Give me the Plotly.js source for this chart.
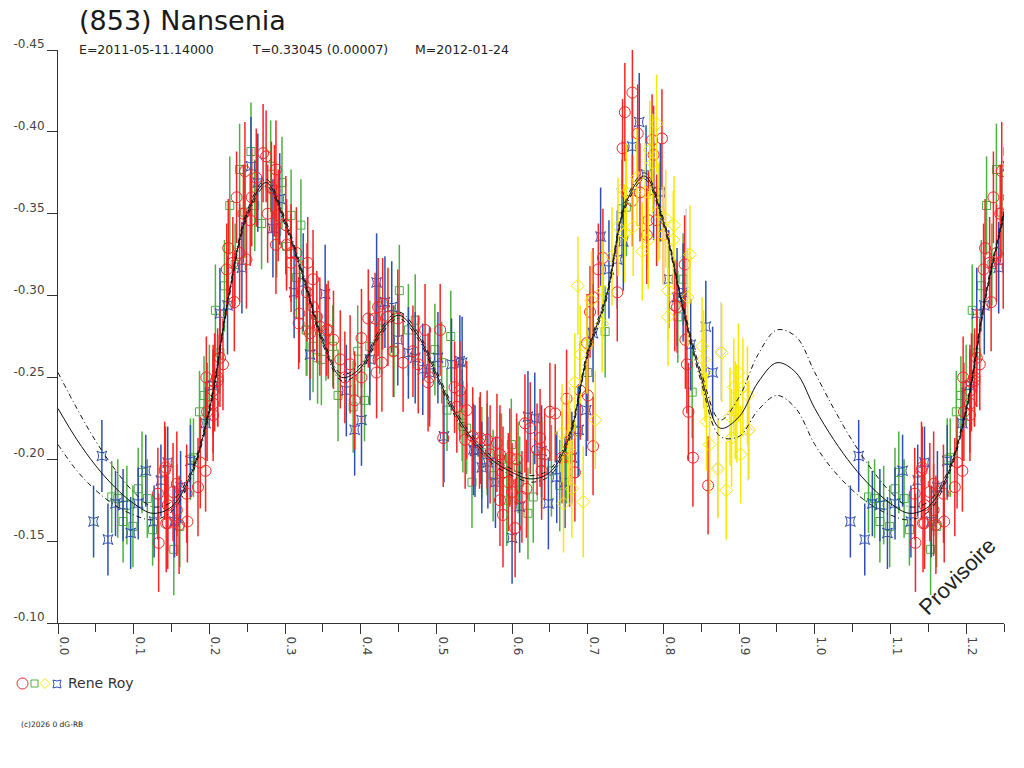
<!DOCTYPE html>
<html>
<head>
<meta charset="utf-8">
<script src="https://cdn.plot.ly/plotly-3.0.1.min.js"></script>
<style>
  html, body { margin: 0; padding: 0; background: #fff; }
  #chart { width: 1024px; height: 768px; }
</style>
</head>
<body>
<div id="chart"></div>
<script>
// observations, one row per point: [phase, reduced magnitude, error]
var redPoints = [
    [0.133, -0.149, 0.030], [0.132, -0.179, 0.028], [0.141, -0.193, 0.030], [0.145, -0.172, 0.028],
    [0.152, -0.180, 0.030], [0.157, -0.185, 0.032], [0.160, -0.160, 0.030], [0.145, -0.161, 0.028],
    [0.142, -0.195, 0.025], [0.143, -0.161, 0.030], [0.157, -0.169, 0.028], [0.171, -0.162, 0.025],
    [0.170, -0.179, 0.030], [0.185, -0.183, 0.030], [0.188, -0.198, 0.028], [0.195, -0.193, 0.025],
    [0.197, -0.229, 0.030], [0.205, -0.227, 0.028], [0.207, -0.247, 0.030], [0.211, -0.248, 0.028],
    [0.214, -0.262, 0.030], [0.205, -0.234, 0.030], [0.196, -0.250, 0.025], [0.218, -0.258, 0.028],
    [0.211, -0.250, 0.030], [0.205, -0.242, 0.028], [0.233, -0.296, 0.030], [0.223, -0.316, 0.028],
    [0.225, -0.329, 0.030], [0.231, -0.320, 0.028], [0.240, -0.326, 0.030], [0.249, -0.322, 0.030],
    [0.236, -0.360, 0.028], [0.245, -0.350, 0.030], [0.247, -0.376, 0.030], [0.254, -0.346, 0.028],
    [0.256, -0.360, 0.030], [0.271, -0.387, 0.030], [0.275, -0.385, 0.028], [0.277, -0.350, 0.030],
    [0.282, -0.366, 0.028], [0.288, -0.377, 0.030], [0.288, -0.331, 0.030], [0.291, -0.349, 0.028],
    [0.301, -0.343, 0.030], [0.302, -0.331, 0.028], [0.308, -0.326, 0.030], [0.315, -0.326, 0.028],
    [0.308, -0.320, 0.030], [0.330, -0.320, 0.028], [0.337, -0.310, 0.030], [0.319, -0.289, 0.030],
    [0.318, -0.283, 0.028], [0.346, -0.281, 0.030], [0.355, -0.279, 0.028], [0.373, -0.261, 0.030],
    [0.342, -0.287, 0.028], [0.262, -0.372, 0.030], [0.286, -0.364, 0.028], [0.329, -0.302, 0.030],
    [0.337, -0.293, 0.028], [0.357, -0.279, 0.030], [0.364, -0.273, 0.030], [0.386, -0.258, 0.030],
    [0.379, -0.250, 0.028], [0.392, -0.236, 0.030], [0.401, -0.274, 0.030], [0.401, -0.250, 0.028],
    [0.410, -0.286, 0.030], [0.419, -0.286, 0.028], [0.428, -0.259, 0.030], [0.421, -0.253, 0.028],
    [0.423, -0.293, 0.030], [0.429, -0.295, 0.028], [0.436, -0.287, 0.030], [0.443, -0.266, 0.028],
    [0.449, -0.286, 0.030], [0.456, -0.259, 0.030], [0.469, -0.266, 0.028], [0.476, -0.258, 0.030],
    [0.485, -0.279, 0.028], [0.491, -0.250, 0.030], [0.505, -0.279, 0.028], [0.489, -0.247, 0.030],
    [0.531, -0.242, 0.030], [0.524, -0.244, 0.028], [0.509, -0.213, 0.030], [0.527, -0.232, 0.028],
    [0.540, -0.230, 0.030], [0.548, -0.214, 0.030], [0.557, -0.210, 0.028], [0.567, -0.212, 0.030],
    [0.580, -0.210, 0.030], [0.333, -0.277, 0.028], [0.538, -0.212, 0.030], [0.558, -0.213, 0.028],
    [0.571, -0.203, 0.030], [0.584, -0.203, 0.030], [0.588, -0.192, 0.028], [0.597, -0.201, 0.030],
    [0.606, -0.200, 0.028], [0.595, -0.186, 0.030], [0.600, -0.180, 0.030], [0.584, -0.175, 0.028],
    [0.588, -0.166, 0.032], [0.604, -0.158, 0.030], [0.613, -0.177, 0.028], [0.619, -0.182, 0.030],
    [0.617, -0.222, 0.030], [0.624, -0.219, 0.028], [0.637, -0.213, 0.030], [0.633, -0.206, 0.028],
    [0.639, -0.193, 0.030], [0.643, -0.203, 0.028], [0.650, -0.229, 0.030], [0.657, -0.228, 0.030],
    [0.672, -0.237, 0.030], [0.666, -0.201, 0.028], [0.676, -0.201, 0.030], [0.683, -0.192, 0.030],
    [0.690, -0.242, 0.030], [0.700, -0.239, 0.028], [0.707, -0.208, 0.030], [0.759, -0.424, 0.028],
    [0.749, -0.412, 0.030], [0.746, -0.390, 0.030], [0.766, -0.399, 0.030], [0.785, -0.395, 0.028],
    [0.798, -0.396, 0.030], [0.787, -0.386, 0.030], [0.769, -0.363, 0.030], [0.759, -0.358, 0.028],
    [0.780, -0.346, 0.030], [0.778, -0.337, 0.030], [0.791, -0.346, 0.028], [0.739, -0.302, 0.030],
    [0.714, -0.316, 0.028], [0.720, -0.323, 0.030], [0.707, -0.299, 0.030], [0.703, -0.290, 0.028],
    [0.699, -0.271, 0.030], [0.800, -0.337, 0.030], [0.818, -0.293, 0.028], [0.828, -0.319, 0.030],
    [0.833, -0.229, 0.030], [0.839, -0.201, 0.030], [0.859, -0.184, 0.030], [0.831, -0.258, 0.030],
    [0.815, -0.294, 0.028], [0.829, -0.273, 0.030]
];

var greenPoints = [
    [0.071, -0.177, 0.022], [0.079, -0.176, 0.024], [0.086, -0.162, 0.025], [0.091, -0.172, 0.024],
    [0.099, -0.159, 0.025], [0.106, -0.182, 0.025], [0.111, -0.192, 0.025], [0.118, -0.176, 0.024],
    [0.125, -0.157, 0.022], [0.153, -0.145, 0.028], [0.161, -0.159, 0.025], [0.175, -0.200, 0.025],
    [0.179, -0.201, 0.024], [0.187, -0.229, 0.025], [0.193, -0.239, 0.024], [0.200, -0.245, 0.025],
    [0.214, -0.265, 0.025], [0.255, -0.388, 0.030], [0.240, -0.377, 0.028], [0.281, -0.379, 0.028],
    [0.296, -0.369, 0.028], [0.227, -0.355, 0.030], [0.260, -0.355, 0.028], [0.247, -0.351, 0.028],
    [0.269, -0.344, 0.028], [0.289, -0.339, 0.028], [0.308, -0.349, 0.028], [0.321, -0.343, 0.028],
    [0.302, -0.330, 0.025], [0.234, -0.319, 0.025], [0.220, -0.306, 0.028], [0.208, -0.291, 0.028],
    [0.328, -0.279, 0.028], [0.337, -0.269, 0.028], [0.348, -0.261, 0.028], [0.363, -0.269, 0.025],
    [0.354, -0.273, 0.025], [0.315, -0.311, 0.025], [0.329, -0.279, 0.028], [0.343, -0.262, 0.028],
    [0.370, -0.239, 0.028], [0.390, -0.232, 0.028], [0.396, -0.266, 0.028], [0.405, -0.236, 0.025],
    [0.412, -0.269, 0.028], [0.425, -0.280, 0.028], [0.444, -0.266, 0.028], [0.451, -0.303, 0.028],
    [0.463, -0.279, 0.028], [0.472, -0.285, 0.028], [0.498, -0.267, 0.028], [0.507, -0.259, 0.025],
    [0.519, -0.275, 0.028], [0.514, -0.230, 0.025], [0.534, -0.227, 0.028], [0.540, -0.219, 0.028],
    [0.560, -0.204, 0.028], [0.584, -0.200, 0.028], [0.547, -0.186, 0.028], [0.535, -0.220, 0.028],
    [0.567, -0.206, 0.028], [0.575, -0.190, 0.028], [0.586, -0.200, 0.028], [0.593, -0.175, 0.028],
    [0.599, -0.209, 0.028], [0.608, -0.195, 0.028], [0.610, -0.186, 0.028], [0.621, -0.167, 0.028],
    [0.628, -0.177, 0.028], [0.639, -0.198, 0.028], [0.652, -0.193, 0.028], [0.663, -0.184, 0.028],
    [0.672, -0.201, 0.028], [0.687, -0.217, 0.028], [0.700, -0.253, 0.028], [0.745, -0.353, 0.030],
    [0.751, -0.354, 0.030], [0.723, -0.278, 0.028], [0.826, -0.310, 0.028], [0.819, -0.287, 0.028],
    [0.838, -0.241, 0.028]
];

var yellowPoints = [
    [0.666, -0.216, 0.030], [0.668, -0.173, 0.030], [0.674, -0.206, 0.030], [0.679, -0.182, 0.030],
    [0.683, -0.247, 0.030], [0.690, -0.264, 0.030], [0.694, -0.174, 0.034], [0.699, -0.270, 0.030],
    [0.710, -0.224, 0.030], [0.676, -0.214, 0.030], [0.791, -0.405, 0.030], [0.687, -0.306, 0.030],
    [0.705, -0.297, 0.030], [0.719, -0.283, 0.030], [0.720, -0.303, 0.030], [0.732, -0.324, 0.030],
    [0.740, -0.342, 0.030], [0.749, -0.338, 0.030], [0.751, -0.363, 0.030], [0.760, -0.342, 0.030],
    [0.765, -0.372, 0.030], [0.772, -0.327, 0.030], [0.776, -0.363, 0.030], [0.780, -0.334, 0.030],
    [0.782, -0.389, 0.030], [0.786, -0.381, 0.030], [0.793, -0.351, 0.030], [0.800, -0.337, 0.030],
    [0.803, -0.347, 0.030], [0.813, -0.334, 0.030], [0.814, -0.343, 0.030], [0.806, -0.303, 0.030],
    [0.806, -0.287, 0.030], [0.832, -0.299, 0.030], [0.835, -0.325, 0.030], [0.851, -0.269, 0.030],
    [0.877, -0.265, 0.030], [0.853, -0.261, 0.030], [0.855, -0.253, 0.030], [0.861, -0.209, 0.030],
    [0.857, -0.223, 0.030], [0.872, -0.194, 0.030], [0.883, -0.181, 0.030], [0.888, -0.226, 0.030],
    [0.890, -0.213, 0.030], [0.893, -0.244, 0.030], [0.895, -0.230, 0.030], [0.899, -0.253, 0.030],
    [0.902, -0.203, 0.030], [0.905, -0.244, 0.030], [0.913, -0.218, 0.030], [0.911, -0.239, 0.030],
    [0.897, -0.228, 0.030]
];

var bluePoints = [
    [0.047, -0.162, 0.022], [0.058, -0.202, 0.022], [0.066, -0.151, 0.022], [0.076, -0.173, 0.020],
    [0.086, -0.172, 0.022], [0.096, -0.155, 0.022], [0.106, -0.173, 0.022], [0.116, -0.193, 0.022],
    [0.127, -0.162, 0.022], [0.136, -0.187, 0.022], [0.145, -0.198, 0.022], [0.154, -0.162, 0.022],
    [0.162, -0.183, 0.022], [0.175, -0.199, 0.022], [0.195, -0.222, 0.022], [0.205, -0.245, 0.022],
    [0.255, -0.379, 0.030], [0.264, -0.369, 0.030], [0.293, -0.359, 0.028], [0.284, -0.341, 0.030],
    [0.243, -0.317, 0.028], [0.224, -0.294, 0.030], [0.214, -0.289, 0.028], [0.324, -0.308, 0.030],
    [0.312, -0.302, 0.028], [0.353, -0.301, 0.030], [0.333, -0.264, 0.028], [0.381, -0.242, 0.028],
    [0.392, -0.218, 0.028], [0.401, -0.224, 0.028], [0.412, -0.261, 0.028], [0.421, -0.308, 0.030],
    [0.432, -0.296, 0.028], [0.441, -0.293, 0.028], [0.449, -0.273, 0.028], [0.463, -0.265, 0.028],
    [0.472, -0.262, 0.028], [0.482, -0.255, 0.028], [0.491, -0.253, 0.028], [0.502, -0.262, 0.028],
    [0.520, -0.258, 0.028], [0.531, -0.260, 0.028], [0.510, -0.214, 0.028], [0.551, -0.205, 0.028],
    [0.560, -0.195, 0.028], [0.534, -0.259, 0.028], [0.549, -0.206, 0.028], [0.568, -0.198, 0.028],
    [0.578, -0.186, 0.028], [0.600, -0.152, 0.028], [0.610, -0.171, 0.028], [0.621, -0.226, 0.028],
    [0.630, -0.225, 0.028], [0.639, -0.205, 0.028], [0.648, -0.173, 0.028], [0.659, -0.189, 0.028],
    [0.670, -0.186, 0.028], [0.679, -0.201, 0.028], [0.688, -0.218, 0.028], [0.698, -0.230, 0.028],
    [0.768, -0.406, 0.030], [0.759, -0.391, 0.030], [0.777, -0.374, 0.030], [0.787, -0.364, 0.030],
    [0.796, -0.363, 0.030], [0.717, -0.336, 0.030], [0.747, -0.333, 0.030], [0.739, -0.322, 0.030],
    [0.728, -0.316, 0.030], [0.707, -0.277, 0.030], [0.807, -0.310, 0.030], [0.818, -0.299, 0.030],
    [0.826, -0.302, 0.030], [0.856, -0.281, 0.028], [0.836, -0.270, 0.028], [0.865, -0.253, 0.028]
];

// faint grey points, barely visible in the original
var greyPoints = [
    [0.830, -0.323, 0.030], [0.872, -0.195, 0.030], [0.912, -0.217, 0.030],
    [0.876, -0.266, 0.030], [0.745, -0.365, 0.030], [0.795, -0.352, 0.030]
];

// Fourier fit and its envelope
var curvePhase = [0.000, 0.025, 0.050, 0.075, 0.100, 0.125, 0.150, 0.175, 0.200, 0.225,
                  0.250, 0.275, 0.300, 0.325, 0.350, 0.375, 0.400, 0.425, 0.450, 0.475,
                  0.500, 0.525, 0.550, 0.575, 0.600, 0.625, 0.650, 0.675, 0.700, 0.725,
                  0.750, 0.775, 0.800, 0.825, 0.850, 0.875, 0.900, 0.925, 0.950, 0.975, 1.000];
var curveMid = [-0.231, -0.212, -0.196, -0.183, -0.173, -0.167, -0.171, -0.190, -0.230, -0.298,
                -0.350, -0.369, -0.345, -0.310, -0.272, -0.250, -0.256, -0.277, -0.288, -0.276,
                -0.252, -0.228, -0.211, -0.199, -0.192, -0.188, -0.192, -0.213, -0.265, -0.300,
                -0.356, -0.373, -0.345, -0.294, -0.250, -0.219, -0.226, -0.247, -0.259, -0.253, -0.231];
var curveUpper = [-0.253, -0.231, -0.211, -0.194, -0.180, -0.171, -0.174, -0.192, -0.232, -0.300,
                  -0.352, -0.371, -0.347, -0.312, -0.274, -0.252, -0.258, -0.279, -0.290, -0.278,
                  -0.254, -0.230, -0.213, -0.201, -0.194, -0.190, -0.194, -0.215, -0.267, -0.302,
                  -0.358, -0.375, -0.347, -0.296, -0.253, -0.224, -0.238, -0.264, -0.279, -0.275, -0.253];
var curveLower = [-0.209, -0.193, -0.181, -0.172, -0.166, -0.163, -0.168, -0.188, -0.228, -0.296,
                  -0.348, -0.367, -0.343, -0.308, -0.270, -0.248, -0.254, -0.275, -0.286, -0.274,
                  -0.250, -0.226, -0.209, -0.197, -0.190, -0.186, -0.190, -0.211, -0.263, -0.298,
                  -0.354, -0.371, -0.343, -0.292, -0.247, -0.214, -0.214, -0.230, -0.239, -0.231, -0.209];

var yTickVals = [-0.45, -0.40, -0.35, -0.30, -0.25, -0.20, -0.15, -0.10];
var yTickText = ['-0.45', '-0.40', '-0.35', '-0.30', '-0.25', '-0.20', '-0.15', '-0.10'];

var titleText = '(853) Nansenia';
var infoParts = ['E=2011-05-11.14000', 'T=0.33045 (0.00007)', 'M=2012-01-24'];
var observer = 'Rene Roy';
var copyText = '(c)2026 0 dG-RB';

var PHASE_MAX = 1.25;

// plot box in pixels, used to place the decorations outside it
var BOX = { l: 58, r: 20, t: 50, b: 145 };
var PLOT_W = 1024 - BOX.l - BOX.r;
var PLOT_H = 768 - BOX.t - BOX.b;
function px(x) { return (x - BOX.l) / PLOT_W; }
function py(y) { return (768 - BOX.b - y) / PLOT_H; }

// phase plot: points before 0.25 are repeated one period later
function wrapRows(rows) {
    var x = [], y = [], e = [];
    rows.forEach(function (r) {
        x.push(r[0]); y.push(r[1]); e.push(r[2]);
    });
    rows.forEach(function (r) {
        if (r[0] + 1 <= PHASE_MAX + 0.01) {
            x.push(r[0] + 1); y.push(r[1]); e.push(r[2]);
        }
    });
    return { x: x, y: y, e: e };
}

function wrapCurve(values) {
    var x = curvePhase.slice(), y = values.slice();
    for (var i = 1; i < curvePhase.length; i++) {
        if (curvePhase[i] <= PHASE_MAX - 1 + 0.0001) {
            x.push(curvePhase[i] + 1);
            y.push(values[i]);
        }
    }
    return { x: x, y: y };
}

function pointTrace(rows, symbol, color, size) {
    var d = wrapRows(rows);
    return {
        x: d.x,
        y: d.y,
        type: 'scatter',
        mode: 'markers',
        showlegend: false,
        hoverinfo: 'skip',
        marker: { symbol: symbol, size: size, color: color, line: { color: color, width: 1 } },
        error_y: { type: 'data', array: d.e, visible: true, color: color, thickness: 1.5, width: 0 }
    };
}

function curveTrace(values, dash, width) {
    var d = wrapCurve(values);
    return {
        x: d.x,
        y: d.y,
        type: 'scatter',
        mode: 'lines',
        showlegend: false,
        hoverinfo: 'skip',
        line: { color: '#111', width: width, dash: dash, shape: 'spline', smoothing: 1 }
    };
}

var RED = '#f52525', GREEN = '#4db040', YELLOW = '#f8e800', BLUE = '#2f4fb0';

var traces = [
    pointTrace(greyPoints, 'diamond-open', '#d4d4d4', 9),
    pointTrace(greenPoints, 'square-open', GREEN, 8),
    pointTrace(bluePoints, 'star-square-open', BLUE, 9),
    pointTrace(redPoints, 'circle-open', RED, 11),
    pointTrace(yellowPoints, 'diamond-open', YELLOW, 10),
    curveTrace(curveUpper, '5px,3px,1px,3px', 1),
    curveTrace(curveLower, '5px,3px,1px,3px', 1),
    curveTrace(curveMid, 'solid', 1)
];

var font = 'DejaVu Sans, Verdana, sans-serif';

function note(text, x, y, size, extra) {
    var a = { text: text, xref: 'paper', yref: 'paper', x: px(x), y: py(y), xanchor: 'left', yanchor: 'middle',
              showarrow: false, font: { size: size, color: '#222', family: font } };
    for (var k in extra) { a[k] = extra[k]; }
    return a;
}

// little legend swatches drawn as shapes
var legendShapes = [
    { type: 'circle', xref: 'paper', yref: 'paper', x0: px(17), x1: px(28), y0: py(689), y1: py(678),
      line: { color: RED, width: 1 } },
    { type: 'rect', xref: 'paper', yref: 'paper', x0: px(31), x1: px(38), y0: py(687), y1: py(680),
      line: { color: GREEN, width: 1 } },
    { type: 'path', xref: 'paper', yref: 'paper',
      path: 'M' + px(40) + ',' + py(683.5) + ' L' + px(45) + ',' + py(678.5) + ' L' + px(50) + ',' + py(683.5) +
            ' L' + px(45) + ',' + py(688.5) + ' Z',
      line: { color: YELLOW, width: 1 } },
    { type: 'path', xref: 'paper', yref: 'paper',
      path: 'M' + px(53) + ',' + py(680) + ' Q' + px(57) + ',' + py(682) + ' ' + px(61) + ',' + py(680) +
            ' Q' + px(59) + ',' + py(684) + ' ' + px(61) + ',' + py(688) +
            ' Q' + px(57) + ',' + py(686) + ' ' + px(53) + ',' + py(688) +
            ' Q' + px(55) + ',' + py(684) + ' ' + px(53) + ',' + py(680) + ' Z',
      line: { color: BLUE, width: 1 } }
];

var layout = {
    width: 1024,
    height: 768,
    margin: { l: BOX.l, r: BOX.r, t: BOX.t, b: BOX.b, pad: 0 },
    paper_bgcolor: '#fff',
    plot_bgcolor: '#fff',
    font: { family: font, color: '#333' },
    xaxis: {
        range: [0, PHASE_MAX],
        tickmode: 'linear',
        tick0: 0,
        dtick: 0.1,
        tickformat: '.1f',
        tickangle: 90,
        ticks: 'outside',
        ticklen: 10,
        tickcolor: '#333',
        ticklabelshift: 6,
        tickfont: { size: 12, color: '#444', family: font },
        minor: { dtick: 0.05, ticks: 'outside', ticklen: 8, tickcolor: '#333', showgrid: false },
        showline: true,
        linecolor: '#333',
        linewidth: 1,
        showgrid: false,
        zeroline: false
    },
    yaxis: {
        range: [-0.10, -0.45],
        tickmode: 'array',
        tickvals: yTickVals,
        ticktext: yTickText,
        ticks: 'outside',
        ticklen: 10,
        tickcolor: '#333',
        ticklabelshift: 6,
        tickfont: { size: 12, color: '#444', family: font },
        showline: true,
        linecolor: '#333',
        linewidth: 1,
        showgrid: false,
        zeroline: false
    },
    shapes: legendShapes,
    annotations: [
        note(titleText, 77, 20, 27, { font: { size: 27, color: '#1a1a1a', family: font } }),
        note(infoParts[0], 77, 49, 12.5),
        note(infoParts[1], 250, 49, 12.5),
        note(infoParts[2], 413, 49, 12.5),
        note(observer, 66, 683, 14, { font: { size: 14, color: '#333', family: font } }),
        note(copyText, 19, 724, 7.5),
        { text: 'Provisoire', xref: 'paper', yref: 'paper', x: px(957), y: py(576), xanchor: 'center', yanchor: 'middle',
          textangle: -45, showarrow: false, font: { size: 22, color: '#222', family: 'Liberation Sans, Arial, sans-serif' } }
    ]
};

Plotly.newPlot('chart', traces, layout, { staticPlot: true });
</script>
</body>
</html>
